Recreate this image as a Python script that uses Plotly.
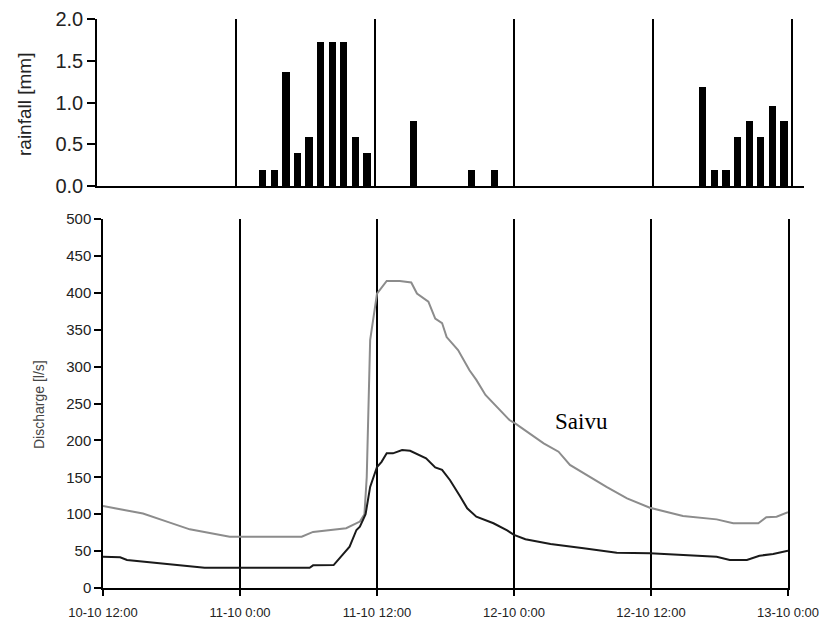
import plotly.graph_objects as go

W, H = 832, 623

# ---- data (hours since 10-10 12:00) ----
tick_hours = [0, 12, 24, 36, 48, 60]
tick_labels = ["10-10 12:00", "11-10 0:00", "11-10 12:00", "12-10 0:00", "12-10 12:00", "13-10 0:00"]

rain_hours = [14, 15, 16, 17, 18, 19, 20, 21, 22, 23, 27, 32, 34, 52, 53, 54, 55, 56, 57, 58, 59]
rain_mm = [0.19, 0.19, 1.36, 0.39, 0.59, 1.72, 1.72, 1.72, 0.59, 0.39, 0.78, 0.19, 0.19,
           1.18, 0.19, 0.19, 0.59, 0.78, 0.59, 0.96, 0.78]

saivu_hours = [0, 3.5, 5.6, 7.6, 11.1, 17.4, 18.4, 20.2, 21.3, 22.5, 22.9, 23.1, 23.25, 23.4, 24.0,
               24.85, 26.0, 27.0, 27.5, 28.5, 29.1, 29.7, 30.1, 31.1, 32.1, 32.7, 33.5, 34.5, 35.6,
               36.1, 38.6, 39.9, 40.9, 44.1, 45.9, 47.9, 50.8, 53.75, 55.2, 57.4, 58.1, 59.0, 60]
saivu_q = [111, 101, 90, 79.5, 69.5, 69.5, 76, 78.6, 81, 90, 100, 150, 250, 336, 399,
           416, 416, 414, 399, 388, 365, 359, 340, 322.5, 295, 282, 261.5, 245.7, 227.6,
           223, 196, 184.7, 166.7, 137, 121.5, 108.8, 97.6, 93, 87.7, 87.7, 95.8, 96.6, 102.6]

other_hours = [0, 1.5, 2.1, 3.8, 5.9, 7.6, 8.9, 18.1, 18.4, 20.2, 21.6, 22.2, 22.5, 23.0, 23.4,
               24.0, 24.4, 24.85, 25.4, 26.2, 26.9, 28.3, 29.1, 29.7, 30.4, 31.3, 31.9, 32.7,
               34.2, 35.4, 36.0, 37.0, 39.2, 42.1, 45.0, 47.9, 50.8, 53.75, 54.9, 56.4, 57.5, 58.7, 60]
other_q = [42.4, 41.6, 38, 35.6, 32.5, 29.8, 27.5, 27.5, 30.7, 31, 56, 78.6, 83, 100, 137,
           164, 171, 182.5, 182.5, 187, 186, 175.7, 163.5, 160, 146, 123.7, 108, 96.6,
           87.7, 78, 72, 66, 59.6, 53.8, 47.8, 47, 44.7, 42.4, 38, 38, 43.8, 46, 50.5]

label_text = "Saivu"
label_hour, label_q = 41.95, 226

fig = go.Figure()

fig.add_trace(go.Bar(x=rain_hours, y=rain_mm, width=0.62, offset=0,
                     marker=dict(color="black", line=dict(width=0)),
                     xaxis="x", yaxis="y", showlegend=False))

fig.add_trace(go.Scatter(x=saivu_hours, y=saivu_q, mode="lines",
                         line=dict(color="#8c8c8c", width=2),
                         xaxis="x2", yaxis="y2", showlegend=False))
fig.add_trace(go.Scatter(x=other_hours, y=other_q, mode="lines",
                         line=dict(color="#1a1a1a", width=2),
                         xaxis="x2", yaxis="y2", showlegend=False))

sans = "Liberation Sans, Arial, sans-serif"

fig.update_layout(
    width=W, height=H,
    margin=dict(l=0, r=0, t=0, b=0, autoexpand=False),
    paper_bgcolor="white", plot_bgcolor="white",
    font=dict(family=sans, color="#222"),
    bargap=0,
    xaxis=dict(domain=[97 / W, 804 / W], range=[0, 61.04], anchor="y", automargin=False,
               tickvals=tick_hours, showticklabels=False, ticks="",
               showgrid=True, gridcolor="black", gridwidth=1.5,
               showline=True, linecolor="black", linewidth=1.5, zeroline=False),
    yaxis=dict(domain=[1 - 186 / H, 1 - 19 / H], range=[0, 2], anchor="x", automargin=False,
               tickvals=[0, 0.5, 1.0, 1.5, 2.0], tickformat=".1f",
               ticks="outside", ticklen=8, tickcolor="black", tickwidth=1.5,
               tickfont=dict(size=20, color="#222"),
               showgrid=False, showline=True, linecolor="black", linewidth=1.5,
               zeroline=False),
    xaxis2=dict(domain=[103 / W, 788 / W], range=[0, 60], anchor="y2", automargin=False,
                tickvals=tick_hours, ticktext=tick_labels,
                ticks="outside", ticklen=6, tickcolor="black", tickwidth=1.5,
                ticklabelstandoff=6,
                tickfont=dict(size=13, color="#222"),
                showgrid=True, gridcolor="black", gridwidth=1.5,
                showline=True, linecolor="black", linewidth=1.5, zeroline=False),
    yaxis2=dict(domain=[1 - 588 / H, 1 - 219 / H], range=[0, 500], anchor="x2", automargin=False,
                tickvals=list(range(0, 501, 50)),
                ticks="outside", ticklen=7, tickcolor="black", tickwidth=1.5,
                tickfont=dict(size=15, color="#222"),
                showgrid=False, showline=True, linecolor="black", linewidth=1.5,
                mirror=True, zeroline=False),
    annotations=[
        dict(text="rainfall [mm]", x=25 / W, y=1 - 105 / H, xref="paper", yref="paper",
             textangle=-90, showarrow=False, font=dict(size=19, color="#222", family=sans),
             xanchor="center", yanchor="middle"),
        dict(text="Discharge [l/s]", x=39 / W, y=1 - 405 / H, xref="paper", yref="paper",
             textangle=-90, showarrow=False, font=dict(size=14, color="#444", family=sans),
             xanchor="center", yanchor="middle"),
        dict(text=label_text, x=label_hour, y=label_q, xref="x2", yref="y2",
             showarrow=False, font=dict(size=23, color="black",
                                        family="Liberation Serif, Times New Roman, serif"),
             xanchor="center", yanchor="middle"),
    ],
)

fig.write_html("out.html")
